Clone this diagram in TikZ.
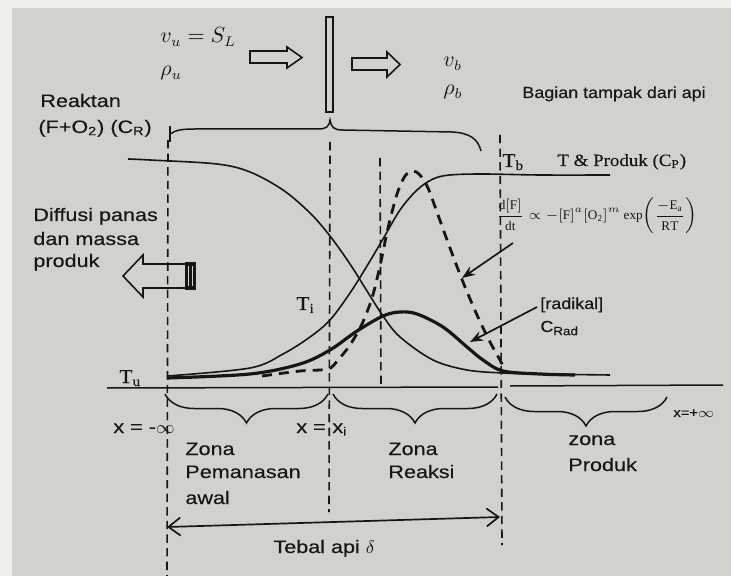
\documentclass[tikz,border=0pt]{standalone}
\usepackage{fontspec}
\setmainfont{Liberation Serif}
\newfontfamily\ssf[FakeStretch=1.2,FakeBold=0.3]{Liberation Sans}
\newfontfamily\ssfn[FakeStretch=1.12,FakeBold=0.3]{Liberation Sans}
\newfontfamily\rmf[FakeStretch=1.1,FakeBold=0.2]{Liberation Serif}
\usetikzlibrary{arrows.meta,decorations.pathreplacing}
\definecolor{paper}{RGB}{210,210,205}
\definecolor{ink}{RGB}{22,22,22}
\begin{document}
\begin{tikzpicture}[x=0.5pt,y=-0.5pt,
  lbl/.style={inner sep=0pt, anchor=base west, text=ink, font={\ssf\fontsize{9}{11}\selectfont}},
  nlbl/.style={inner sep=0pt, anchor=base west, text=ink, font={\ssfn\fontsize{8}{10}\selectfont}},
  slbl/.style={inner sep=0pt, anchor=base west, text=ink, font={\ssfn\fontsize{6.6}{8}\selectfont}},
  rlbl/.style={inner sep=0pt, anchor=base west, text=ink, font={\rmf\fontsize{8.6}{10}\selectfont}},
  tlbl/.style={inner sep=0pt, anchor=base west, text=ink, font={\rmf\fontsize{9.8}{11}\selectfont}},
  mlbl/.style={inner sep=0pt, anchor=base west, text=ink, font={\fontsize{10.5}{12}\selectfont}},
  vdash/.style={draw=ink, line width=0.8pt, dash pattern=on 4.2pt off 2.6pt},
  thin curve/.style={draw=ink, line width=0.8pt},
  thick curve/.style={draw=ink, line width=1.6pt},
  rate curve/.style={draw=ink, line width=1.4pt, dash pattern=on 5pt off 3.5pt},
  hollow/.style={draw=ink, line width=0.8pt, line join=miter},
  pointer/.style={draw=ink, line width=0.85pt, -{Stealth[length=6.5pt,width=5pt]}},
  bracepath/.style={draw=ink, line width=0.75pt, decorate, decoration={brace, mirror, amplitude=14.5pt}},
]
% background
\fill[paper] (0,0) rectangle (731,576);
\fill[paper!35!white] (0,0) rectangle (12,576);
\fill[paper!35!white] (0,0) rectangle (731,8);
\useasboundingbox (0,0) rectangle (731,576);

% named coordinates
\coordinate (xLt) at (168,140);  \coordinate (xLb) at (167,576);
\coordinate (xMt) at (330,142);  \coordinate (xMb) at (329,512);
\coordinate (xQt) at (380,158);  \coordinate (xQb) at (381,385);
\coordinate (xRt) at (500,135);  \coordinate (xRb) at (502,545);
\coordinate (axL) at (107,388);  \coordinate (axG1) at (498,387);
\coordinate (axG2) at (510,386); \coordinate (axR) at (723,385);

% vertical dashed lines
\draw[vdash] (xLt) -- (xLb);
\draw[vdash] (xMt) -- (xMb);
\draw[vdash] (xQt) -- (xQb);
\draw[vdash] (xRt) -- (xRb);

% axis
\draw[ink, line width=0.75pt] (axL) -- (axG1);
\draw[ink, line width=0.75pt] (axG2) -- (axR);

% flame sheet and velocity arrows
\draw[ink, line width=0.75pt, fill=paper] (326,17) rectangle (333,112);
\draw[hollow] (250,51) -- (287,51) -- (287,47) -- (302,57.5) -- (287,68) -- (287,63) -- (250,63) -- cycle;
\draw[hollow] (352,58) -- (387,58) -- (387,52) -- (400,64.5) -- (387,77) -- (387,70) -- (352,70) -- cycle;

% top brace
\draw[ink, line width=0.75pt] (170,126) -- (170,142);
\draw[ink, line width=0.75pt] (170,134) .. controls (176,130) and (182,129) .. (195,129)
  -- (318,129) .. controls (326,129) and (329,127) .. (330,120)
  .. controls (331,127) and (334,130) .. (342,130)
  -- (452,132) .. controls (470,133) and (478,139) .. (481,151);

% diffusion arrow
\draw[hollow] (187,264) -- (143,264) -- (143,255) -- (123,276) -- (143,297) -- (143,288) -- (187,288);
\fill[ink] (185,262) rectangle (196,290);
\draw[paper, line width=0.5pt] (188.7,266) -- (188.7,286);
\draw[paper, line width=0.5pt] (192.2,266) -- (192.2,286);

% curves
\draw[thin curve] plot[smooth, tension=0.55] coordinates {(128,159) (150,160) (217,164) (250,172) (283,190) (310,213) (330,236) (350,264) (367,291) (383,316) (400,337) (433,360) (467,370) (503,373) (540,374) (610,375)};
\draw[thin curve] plot[smooth, tension=0.55] coordinates {(167,376) (250,368) (283,354) (310,337) (330,320) (350,293) (367,266) (383,239) (400,210) (417,190) (433,179) (450,175) (483,174) (540,175) (610,175)};
\draw[thick curve] plot[smooth, tension=0.55] coordinates {(167,378) (250,374) (300,364) (330,350) (357,331) (383,316) (400,312) (417,314) (443,327) (467,347) (483,360) (503,371) (540,374) (575,375)};
\draw[rate curve] plot[smooth, tension=0.5] coordinates {(262,376) (300,371) (328,369) (338,360) (350,345) (362,324) (372,298) (380,266) (388,228) (397,194) (405,176) (413,171) (420,175) (428,188) (438,215) (450,248) (463,282) (477,315) (490,342) (500,360) (505,370)};

% pointers
\coordinate (pF1) at (513,243); \coordinate (pF2) at (462,278);
\coordinate (pR1) at (537,307); \coordinate (pR2) at (470,342);
\draw[pointer] (pF1) -- (pF2);
\draw[pointer] (pR1) -- (pR2);

% bottom braces
\coordinate (b1a) at (165,394); \coordinate (b1b) at (328,394);
\coordinate (b2a) at (333,394); \coordinate (b2b) at (497,394);
\coordinate (b3a) at (505,397); \coordinate (b3b) at (667,397);
\draw[bracepath] (b1a) -- (b1b);
\draw[bracepath] (b2a) -- (b2b);
\draw[bracepath] (b3a) -- (b3b);

% flame thickness arrow
\coordinate (dA) at (167,527); \coordinate (dB) at (500,517);
\draw[ink, line width=0.85pt, {Straight Barb[length=6pt,width=9pt]}-{Straight Barb[length=6pt,width=9pt]}] (dA) -- (dB);

% labels
\node[mlbl] (vu) at (160,43) {$v_u = S_L$};
\node[mlbl] (rhou) at (160,76) {$\rho_u$};
\node[mlbl] (vb) at (443,67) {$v_b$};
\node[mlbl] (rhob) at (443,95) {$\rho_b$};
\node[nlbl] (bagian) at (522,98) {Bagian tampak dari api};
\node[lbl] (reak1) at (40,107) {Reaktan};
\node[lbl] (reak2) at (38,133) {(F+O\textsubscript{2}) (C\textsubscript{R})};
\node[rlbl] (tprod) at (557,166) {T \& Produk (C\textsubscript{P})};
\node[tlbl] (tb) at (502,167) {T\textsubscript{b}};
\node[tlbl] (ti) at (296,310) {T\textsubscript{i}};
\node[tlbl] (tu) at (119,383) {T\textsubscript{u}};
\node[inner sep=0pt, anchor=west, text=ink, font={\fontsize{6.6}{8}\selectfont}] (rate) at (496,216)
  {$\displaystyle\frac{\mathrm{d[F]}}{\mathrm{dt}} \propto -\mathrm{[F]}^{a}\mathrm{[O_2]}^{m}\,\mathrm{exp}\!\left(\frac{-\mathrm{E_a}}{\mathrm{RT}}\right)$};
\node[nlbl] (rad1) at (540,309) {[radikal]};
\node[nlbl] (rad2) at (540,332) {C\textsubscript{Rad}};
\node[lbl] (dif1) at (33,221) {Diffusi panas};
\node[lbl] (dif2) at (33,245) {dan massa};
\node[lbl] (dif3) at (33,267) {produk};
\node[lbl] (xinf) at (113,433) {x = -$\infty$};
\node[lbl] (xeq) at (296,433) {x =};
\node[lbl] (xi) at (332,433) {x\textsubscript{i}};
\node[slbl] (xpinf) at (673,417) {x=+$\infty$};
\node[lbl] (z1a) at (185,455) {Zona};
\node[lbl] (z1b) at (185,478) {Pemanasan};
\node[lbl] (z1c) at (185,504) {awal};
\node[lbl] (z2a) at (388,455) {Zona};
\node[lbl] (z2b) at (388,478) {Reaksi};
\node[lbl] (z3a) at (568,445) {zona};
\node[lbl] (z3b) at (568,471) {Produk};
\node[lbl] (tebal) at (273,553) {Tebal api $\delta$};
\end{tikzpicture}
\end{document}
